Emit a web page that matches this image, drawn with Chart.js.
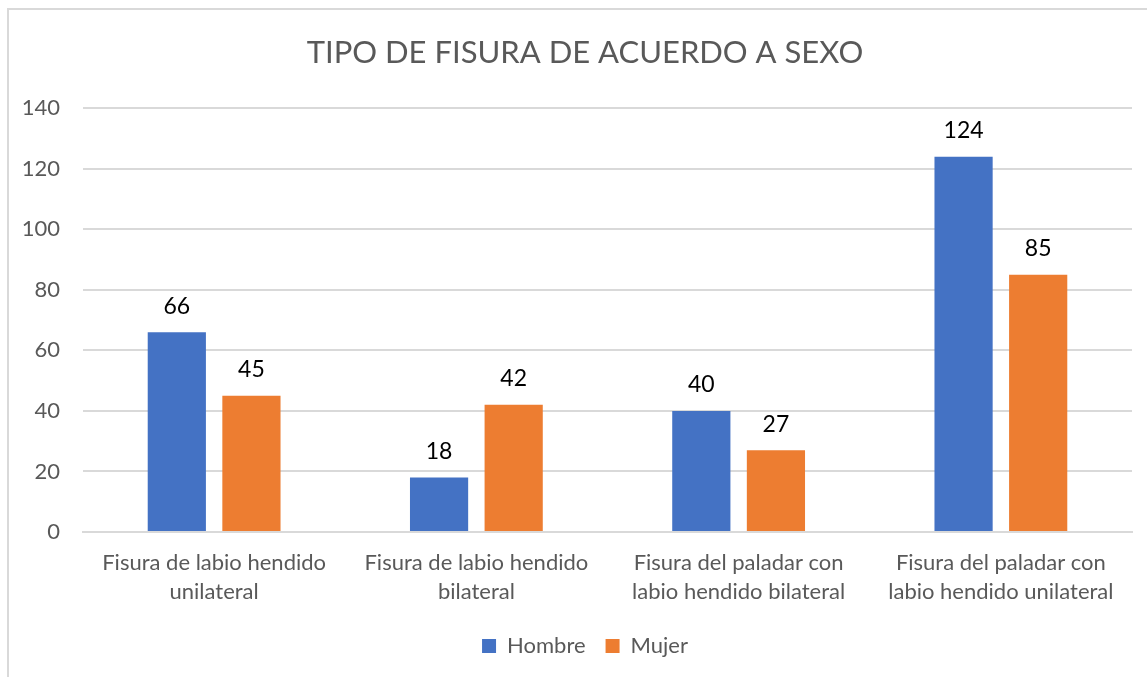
<!DOCTYPE html>
<html>
<head>
<meta charset="utf-8">
<script src="https://cdn.jsdelivr.net/npm/chart.js@4"></script>
<style>
  html, body { margin: 0; padding: 0; background: #fff; overflow: hidden; width: 1147px; height: 677px; }
  #wrap { position: absolute; left: 0; top: 0; width: 1162px; height: 677px; }
  #frame { position: absolute; left: 7px; top: 8px; width: 1200px; height: 720px;
           border: 2px solid #d9d9d9; box-sizing: border-box; pointer-events: none; }
</style>
</head>
<body>
<div id="wrap"><canvas id="chart" width="1162" height="677"></canvas></div>
<div id="frame"></div>
<script>
// ---- data ----
const categories = [
  ['Fisura de labio hendido', 'unilateral'],
  ['Fisura de labio hendido', 'bilateral'],
  ['Fisura del paladar con', 'labio hendido bilateral'],
  ['Fisura del paladar con', 'labio hendido unilateral']
];
const hombre = [66, 18, 40, 124];
const mujer = [45, 42, 27, 85];
const yTicks = [0, 20, 40, 60, 80, 100, 120, 140];

const FONT = 'Lato, "Open Sans", sans-serif';
const GREY = '#595959';

// value labels above each bar
const barLabels = {
  id: 'barLabels',
  afterDatasetsDraw(chart) {
    const ctx = chart.ctx;
    ctx.save();
    ctx.font = '23px ' + FONT;
    ctx.fillStyle = '#000';
    ctx.textAlign = 'center';
    ctx.textBaseline = 'middle';
    chart.data.datasets.forEach((ds, i) => {
      chart.getDatasetMeta(i).data.forEach((bar, j) => {
        ctx.fillText(ds.data[j], bar.x, bar.y - 26);
      });
    });
    ctx.restore();
  }
};

new Chart(document.getElementById('chart'), {
  type: 'bar',
  data: {
    labels: categories,
    datasets: [
      { label: 'Hombre', data: hombre, backgroundColor: '#4472C4',
        categoryPercentage: 0.569, barPercentage: 0.78 },
      { label: 'Mujer', data: mujer, backgroundColor: '#ED7D31',
        categoryPercentage: 0.569, barPercentage: 0.78 }
    ]
  },
  options: {
    responsive: false,
    animation: false,
    layout: { padding: { left: 8, right: 0, top: 0, bottom: 10 } },
    plugins: {
      title: {
        display: true,
        text: 'TIPO DE FISURA DE ACUERDO A SEXO',
        color: GREY,
        font: { family: FONT, size: 31, weight: 'normal' },
        padding: { top: 34, bottom: 37 }
      },
      legend: {
        position: 'bottom',
        labels: {
          color: GREY,
          font: { family: FONT, size: 22 },
          boxWidth: 14, boxHeight: 14,
          padding: 20
        }
      },
      tooltip: { enabled: false }
    },
    scales: {
      x: {
        grid: { display: false, drawTicks: false },
        border: { color: '#d9d9d9', width: 2 },
        ticks: {
          color: GREY, padding: 16, maxRotation: 0, autoSkip: false,
          font: { family: FONT, size: 22, lineHeight: 1.32 }
        },
        afterFit(scale) { scale.height = 83; }
      },
      y: {
        min: 0, max: 140,
        afterBuildTicks(scale) { scale.ticks = yTicks.map(v => ({ value: v })); },
        grid: { color: '#d9d9d9', lineWidth: 2, drawTicks: false },
        border: { display: false },
        ticks: {
          color: GREY, padding: 23,
          font: { family: FONT, size: 22 }
        },
        afterFit(scale) { scale.width = 75; }
      },
      // empty right-hand spacer so the title and legend centre like the original
      spacer: {
        type: 'linear',
        position: 'right',
        grid: { display: false, drawTicks: false },
        border: { display: false },
        ticks: { display: false },
        afterFit(scale) { scale.width = 30; }
      }
    }
  },
  plugins: [barLabels]
});
</script>
</body>
</html>
